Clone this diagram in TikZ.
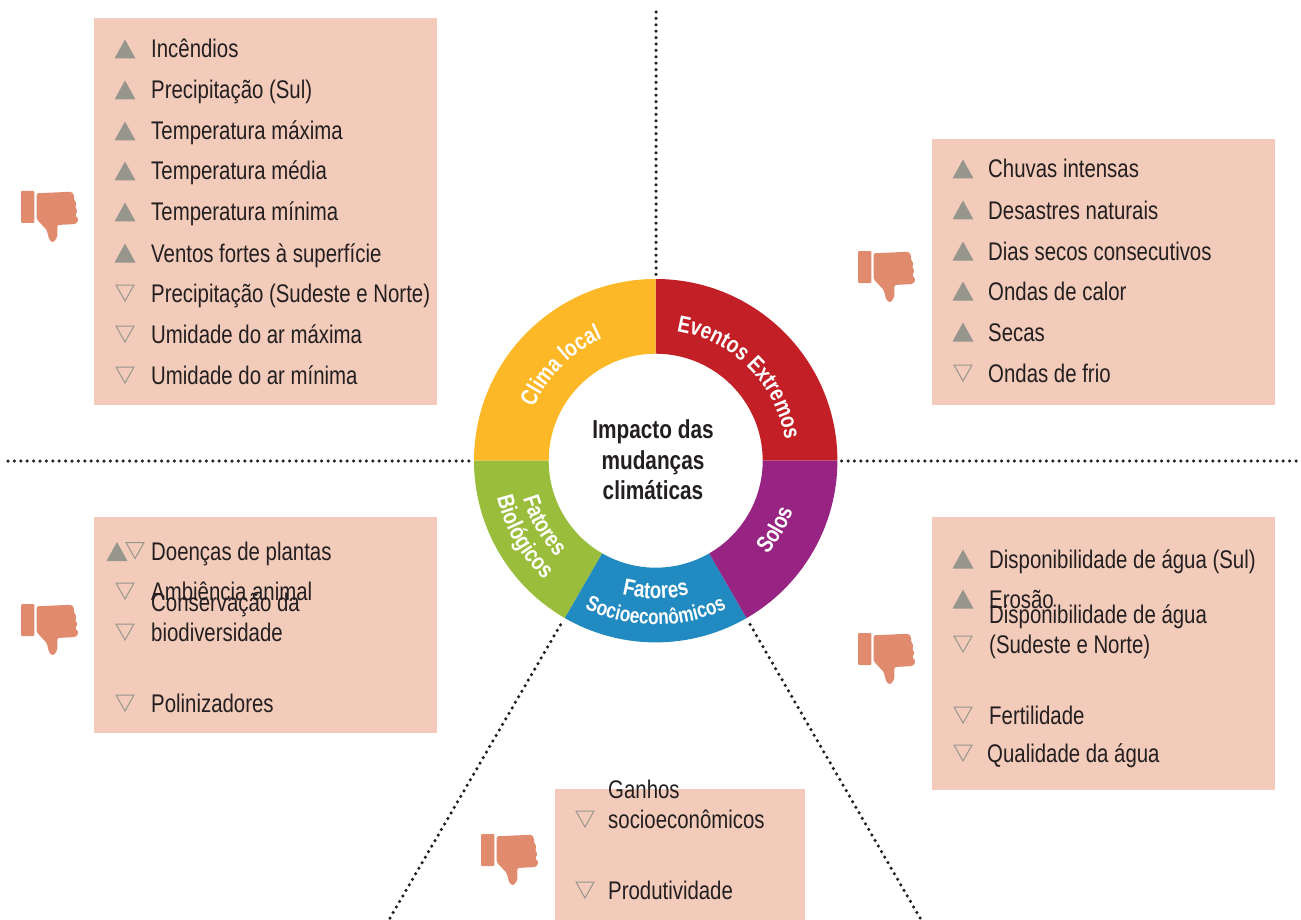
\documentclass[tikz,border=0pt]{standalone}
\usepackage{fontspec}
\setmainfont[FakeStretch=0.8]{Liberation Sans}
\usetikzlibrary{decorations.text}
\definecolor{caixa}{HTML}{F3CBBA}
\definecolor{polegar}{HTML}{E08B6E}
\definecolor{seta}{HTML}{96968D}
\definecolor{tinta}{HTML}{231F20}
\definecolor{amarelo}{HTML}{FDB827}
\definecolor{vermelho}{HTML}{C22026}
\definecolor{roxo}{HTML}{972482}
\definecolor{azul}{HTML}{218AC0}
\definecolor{verde}{HTML}{9ABD3C}
\newcommand{\fonteitem}{\fontsize{25.5}{30}\selectfont}
\newcommand{\fonteanel}{\fontsize{23.5}{23.5}\selectfont\bfseries\color{white}}
\newcommand{\fontesocio}{\fontsize{21.5}{21.5}\selectfont\bfseries\color{white}}
\newcommand{\subiu}[5]{\pic at (#1,#3-9) {trisobe}; \node[itemtexto] (#4) at (#2,#3) {#5};}
\newcommand{\desceu}[5]{\pic at (#1,#3-9) {tridesce}; \node[itemtexto] (#4) at (#2,#3) {#5};}
\newcommand{\setor}[3]{\fill[#1] (#2:107) arc[start angle=#2,end angle=#3,radius=107]
    -- (#3:181.7) arc[start angle=#3,end angle=#2,radius=181.7] -- cycle;}
\newcommand{\rotulo}[5]{\path[decorate,decoration={text along path,text align=center,
    text={|#5|#4}}] (#1:#3) arc[start angle=#1,end angle=#2,radius=#3];}
\tikzset{
    caixaitens/.style={fill=caixa},
    itemtexto/.style={anchor=base west,align=left,inner sep=0pt,text=tinta,font=\fonteitem},
    pontilhado/.style={line width=3.5pt,tinta,line cap=round,dash pattern=on 0pt off 6.4pt},
    trisobe/.pic={\fill[seta] (-10.5,9.5)--(10.5,9.5)--(0,-9.5)--cycle;},
    tridesce/.pic={\draw[seta,line width=1pt] (-9,-8)--(9,-8)--(0,8)--cycle;},
    polegarbaixo/.pic={
        \fill[polegar,rounded corners=1pt] (0,0) rectangle (13.3,32);
        \fill[polegar,rounded corners=1.5pt] (15.7,2.3)--(50.7,0.7)--(53,4)--(53,9)--(55.7,12.3)
            --(54,16.3)--(56.7,20)--(54,24)--(57.7,28.3)--(55,33)--(36.3,34)--(36.3,46.3)
            --(32.3,51.7)--(28.3,49)--(25.7,39)--(15.7,28.3)--cycle;}
}
\begin{document}
\begin{tikzpicture}[x=1pt, y=-1pt]
\useasboundingbox (0,0) rectangle (1301,920);
\coordinate (centroanel) at (655.7,460.7);
% caixas
\fill[caixaitens] (94,18) rectangle (437,405);
\fill[caixaitens] (932,139) rectangle (1275,405);
\fill[caixaitens] (94,517) rectangle (437,733);
\fill[caixaitens] (932,517) rectangle (1275,790);
\fill[caixaitens] (555,789) rectangle (805,920);
% linhas
\coordinate (topo) at (656,12);
\coordinate (anelcima) at (656,276);
\coordinate (esq) at (8,461);
\coordinate (anelesq) at (472,461);
\coordinate (dir) at (1296,461);
\coordinate (aneldir) at (840,461);
\coordinate (baixoesq) at (390,918);
\coordinate (anelbaixoesq) at (563.3,620);
\coordinate (baixodir) at (920,918);
\coordinate (anelbaixodir) at (747.5,620);
\draw[pontilhado] (topo) -- (anelcima);
\draw[pontilhado] (esq) -- (anelesq);
\draw[pontilhado] (dir) -- (aneldir);
\draw[pontilhado] (baixoesq) -- (anelbaixoesq);
\draw[pontilhado] (baixodir) -- (anelbaixodir);
% anel
\begin{scope}[shift={(centroanel)}, y=1pt]
\setor{vermelho}{0}{90}
\setor{amarelo}{90}{180}
\setor{verde}{180}{240}
\setor{azul}{240}{300}
\setor{roxo}{300}{360}
\rotulo{178}{92}{133}{Clima local}{\fonteanel}
\rotulo{88}{2}{131}{Eventos Extremos}{\fonteanel}
\rotulo{302}{358}{146}{Solos}{\fonteanel}
\rotulo{182}{238}{138}{Fatores}{\fonteanel}
\rotulo{182}{238}{163}{Biológicos}{\fonteanel}
\rotulo{242}{298}{138}{Fatores}{\fonteanel}
\rotulo{242}{298}{164}{Socioeconômicos}{\fontesocio}
\end{scope}
\node[align=center,inner sep=0pt,text=tinta,font=\fontsize{26}{30.5}\selectfont\bfseries] (impacto) at (653,460) {Impacto das\\mudanças\\climáticas};
% polegares
\pic at (21,191) {polegarbaixo};
\pic at (858,251) {polegarbaixo};
\pic at (21,604) {polegarbaixo};
\pic at (858,633) {polegarbaixo};
\pic at (481,834) {polegarbaixo};
% clima local
\subiu{125}{151}{58}{incendios}{Incêndios}
\subiu{125}{151}{99}{precipsul}{Precipitação (Sul)}
\subiu{125}{151}{140}{tempmax}{Temperatura máxima}
\subiu{125}{151}{180}{tempmed}{Temperatura média}
\subiu{125}{151}{221}{tempmin}{Temperatura mínima}
\subiu{125}{151}{262}{ventos}{Ventos fortes à superfície}
\desceu{125}{151}{302}{precipnorte}{Precipitação (Sudeste e Norte)}
\desceu{125}{151}{343}{umidmax}{Umidade do ar máxima}
\desceu{125}{151}{384}{umidmin}{Umidade do ar mínima}
% eventos extremos
\subiu{963}{988}{178}{chuvas}{Chuvas intensas}
\subiu{963}{988}{219}{desastres}{Desastres naturais}
\subiu{963}{988}{260}{diassecos}{Dias secos consecutivos}
\subiu{963}{988}{300}{calor}{Ondas de calor}
\subiu{963}{988}{341}{secas}{Secas}
\desceu{963}{988}{382}{frio}{Ondas de frio}
% fatores biologicos
\pic at (117,551.5) {trisobe};
\pic at (135,550.5) {tridesce};
\node[itemtexto] (doencas) at (151,560) {Doenças de plantas};
\desceu{125}{151}{600}{ambiencia}{Ambiência animal}
\desceu{125}{151}{641}{conservacao}{Conservação da\\biodiversidade}
\desceu{125}{151}{712}{polinizadores}{Polinizadores}
% solos
\subiu{963}{989}{568}{dispsul}{Disponibilidade de água (Sul)}
\subiu{963}{989}{608}{erosao}{Erosão}
\desceu{963}{989}{653}{dispnorte}{Disponibilidade de água\\(Sudeste e Norte)}
\desceu{963}{989}{724}{fertilidade}{Fertilidade}
\desceu{963}{987}{762}{qualidade}{Qualidade da água}
% socioeconomicos
\desceu{585}{608}{828}{ganhos}{Ganhos\\socioeconômicos}
\desceu{585}{608}{899}{produtividade}{Produtividade}
\end{tikzpicture}
\end{document}
